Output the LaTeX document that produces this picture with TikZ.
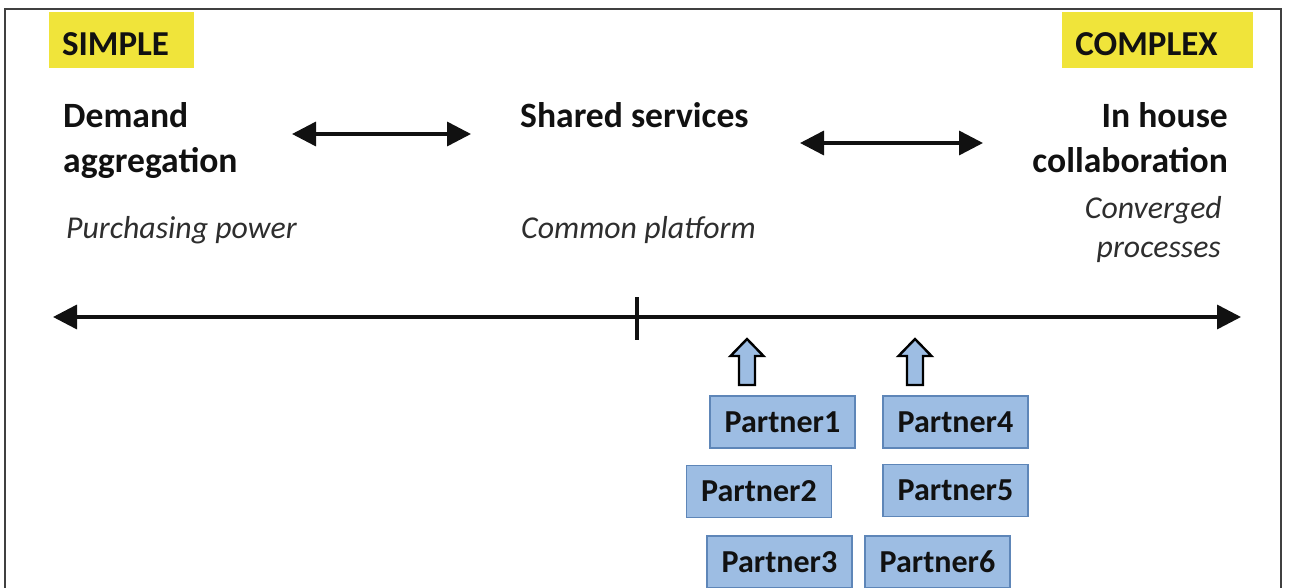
\documentclass[tikz,border=0pt]{standalone}
\usepackage{fontspec}
\setmainfont{Carlito}
\usetikzlibrary{arrows.meta}
\definecolor{hiyellow}{HTML}{F0E43A}
\definecolor{pfill}{HTML}{9DBDE3}
\definecolor{pdraw}{HTML}{5E86B8}
\definecolor{txt}{HTML}{111111}
\definecolor{itx}{HTML}{2E2E2E}
\tikzset{
  tag/.style={fill=hiyellow, draw=none},
  tagtext/.style={font=\fontsize{35}{40}\selectfont\bfseries, text=txt, inner sep=0pt, anchor=base},
  head/.style={font=\fontsize{35.6}{42}\selectfont\bfseries, text=txt, align=left, inner sep=0pt},
  sub/.style={font=\fontsize{31.8}{37}\selectfont\itshape, text=itx, inner sep=0pt},
  partner/.style={draw=pdraw, line width=1.2pt, fill=pfill, minimum width=145pt, minimum height=52pt, inner sep=0pt, font=\fontsize{32}{36}\selectfont\bfseries, text=txt},
  dbl/.style={line width=3.5pt, {Triangle[length=24pt,width=24pt]}-{Triangle[length=24pt,width=24pt]}, txt},
  uparrow/.style={draw=black, line width=2.4pt, fill=pfill, line join=miter},
}
\newcommand{\ptxt}[1]{\raisebox{-2.5pt}{#1}}
\begin{document}
\begin{tikzpicture}[x=1pt,y=-1pt]
\useasboundingbox (0,0) rectangle (1289,588);
% frame (open at bottom)
\draw[line width=2pt, black!75] (5,600) -- (5,9) -- (1281,9) -- (1281,600);
% tags
\fill[tag] (49,12) rectangle (194,68);
\node[tagtext] (simple) at (115.5,56) {SIMPLE};
\fill[tag] (1062,12) rectangle (1253,68);
\node[tagtext] (complex) at (1146.5,56) {COMPLEX};
% headings
\node[head, anchor=base west] (demand) at (63,128) {Demand};
\node[head, anchor=base west] (aggr) at (63,172) {aggregation};
\node[head, anchor=base west] (shared) at (520,128) {Shared services};
\node[head, anchor=base east] (inhouse) at (1228,128) {In house};
\node[head, anchor=base east] (collab) at (1228,172) {collaboration};
% subtitles
\node[sub, anchor=base west] (purch) at (66,238) {Purchasing power};
\node[sub, anchor=base west] (common) at (521,238) {Common platform};
\node[sub, anchor=base east] (conv) at (1222,218) {Converged};
\node[sub, anchor=base east] (proc) at (1221,257) {processes};
% double arrows
\coordinate (a1l) at (292,134);
\coordinate (a1r) at (471,134);
\coordinate (a2l) at (800,143);
\coordinate (a2r) at (983,143);
\draw[dbl] (a1l) -- (a1r);
\draw[dbl] (a2l) -- (a2r);
% axis
\coordinate (axl) at (53,317);
\coordinate (axr) at (1241,317);
\coordinate (tickt) at (637,297);
\coordinate (tickb) at (637,340);
\draw[dbl] (axl) -- (axr);
\draw[line width=3.5pt, txt] (tickt) -- (tickb);
% block up arrows
\foreach \cx in {747,915}{
  \draw[uparrow] (\cx-8,385) -- (\cx-8,356) -- (\cx-16.5,356) -- (\cx,339) -- (\cx+16.5,356) -- (\cx+8,356) -- (\cx+8,385) -- cycle;
}
% partners
\node[partner] (p1) at (782.5,422) {\ptxt{Partner1}};
\node[partner] (p4) at (955.5,422) {\ptxt{Partner4}};
\node[partner] (p2) at (759,491.5) {\ptxt{Partner2}};
\node[partner] (p5) at (955.5,490.5) {\ptxt{Partner5}};
\node[partner] (p3) at (779.5,562) {\ptxt{Partner3}};
\node[partner] (p6) at (937.5,562) {\ptxt{Partner6}};
\end{tikzpicture}
\end{document}
